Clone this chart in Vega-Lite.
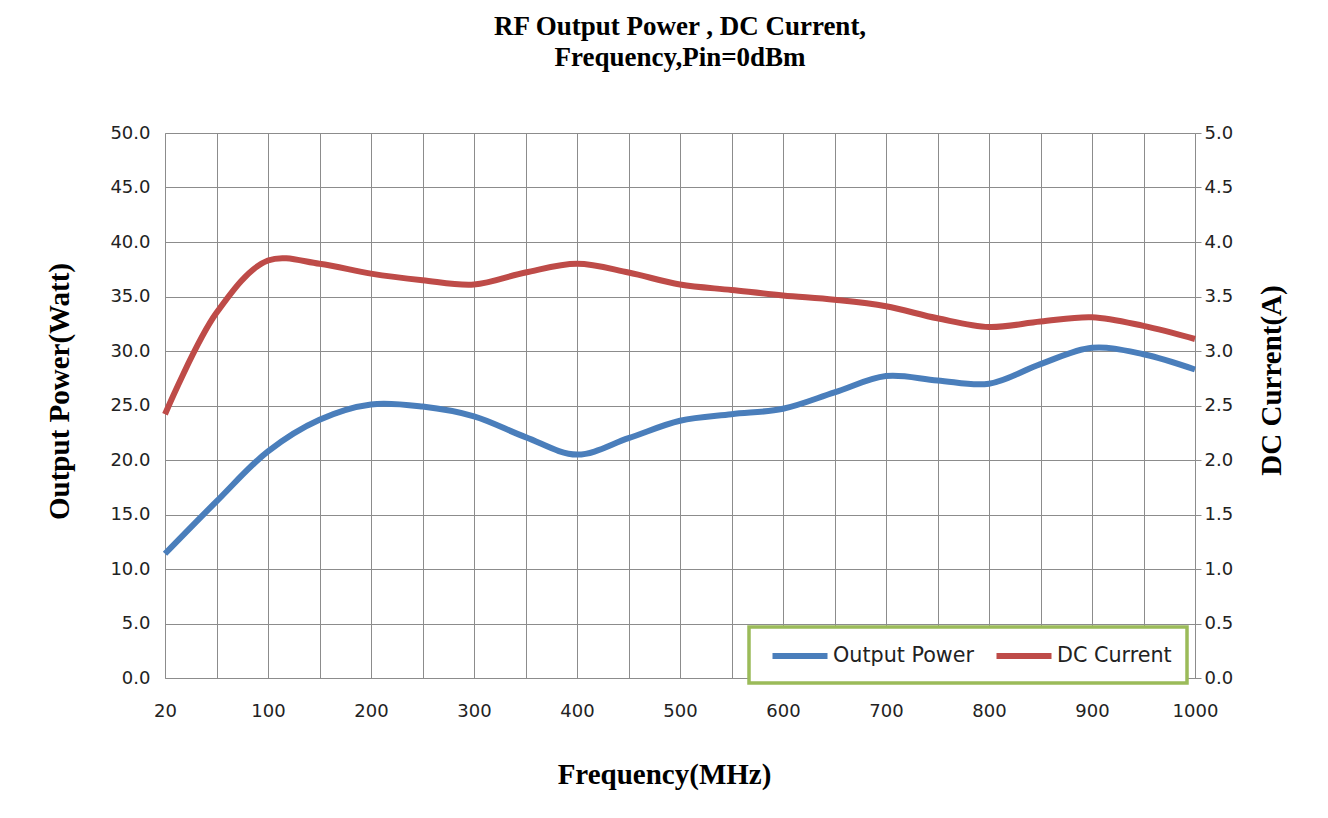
{
  "$schema": "https://vega.github.io/schema/vega-lite/v6.json",
  "width": 1030,
  "height": 545,
  "autosize": {"type": "none"},
  "padding": {"left": 165, "top": 133, "right": 133, "bottom": 140},
  "background": "white",
  "title": {
    "text": ["RF Output Power , DC Current,", "Frequency,Pin=0dBm"],
    "font": "Liberation Serif",
    "fontSize": 27,
    "fontWeight": "bold",
    "color": "#000000",
    "anchor": "middle",
    "offset": 52,
    "lineHeight": 31
  },
  "config": {
    "view": {"stroke": null},
    "axis": {
      "labelFont": "DejaVu Sans",
      "labelFontSize": 18,
      "labelColor": "#222222",
      "titleFont": "Liberation Serif",
      "titleFontSize": 29,
      "titleFontWeight": "bold",
      "titleColor": "#000000",
      "gridColor": "#8c8c8c",
      "gridWidth": 1,
      "domainColor": "#8c8c8c",
      "tickColor": "#8c8c8c"
    },
    "legend": {
      "labelFont": "DejaVu Sans",
      "labelFontSize": 20.7,
      "labelColor": "#222222",
      "strokeWidth": 3.5
    }
  },
  "data": {
    "values": [
      {"freq": "20", "power": 11.4, "current": 2.42},
      {"freq": "50", "power": 16.2, "current": 3.35},
      {"freq": "100", "power": 20.8, "current": 3.83},
      {"freq": "150", "power": 23.7, "current": 3.8},
      {"freq": "200", "power": 25.1, "current": 3.71},
      {"freq": "250", "power": 24.9, "current": 3.65},
      {"freq": "300", "power": 24.0, "current": 3.61},
      {"freq": "350", "power": 22.1, "current": 3.72},
      {"freq": "400", "power": 20.5, "current": 3.8},
      {"freq": "450", "power": 22.0, "current": 3.72},
      {"freq": "500", "power": 23.6, "current": 3.61},
      {"freq": "550", "power": 24.2, "current": 3.56},
      {"freq": "600", "power": 24.7, "current": 3.51},
      {"freq": "650", "power": 26.2, "current": 3.47},
      {"freq": "700", "power": 27.7, "current": 3.41},
      {"freq": "750", "power": 27.3, "current": 3.3},
      {"freq": "800", "power": 27.0, "current": 3.22},
      {"freq": "850", "power": 28.8, "current": 3.27},
      {"freq": "900", "power": 30.3, "current": 3.31},
      {"freq": "950", "power": 29.7, "current": 3.23},
      {"freq": "1000", "power": 28.3, "current": 3.11}
    ]
  },
  "encoding": {
    "x": {
      "field": "freq",
      "type": "ordinal",
      "sort": null,
      "scale": {"type": "point", "padding": 0},
      "axis": {
        "title": "Frequency(MHz)",
        "labelAngle": 0,
        "ticks": false,
        "labelPadding": 24,
        "titlePadding": 40,
        "titleX": 499,
        "grid": true,
        "labelExpr": "toNumber(datum.value) % 100 == 50 ? '' : datum.label"
      }
    }
  },
  "layer": [
    {
      "mark": {"type": "line", "interpolate": "catmull-rom", "strokeWidth": 6, "strokeCap": "butt"},
      "encoding": {
        "y": {
          "field": "power",
          "type": "quantitative",
          "scale": {"domain": [0, 50], "nice": false},
          "axis": {
            "title": "Output Power(Watt)",
            "orient": "left",
            "values": [0, 5, 10, 15, 20, 25, 30, 35, 40, 45, 50],
            "format": ".1f",
            "ticks": false,
            "labelPadding": 15,
            "titlePadding": 35,
            "titleY": 258,
            "domain": true
          }
        },
        "color": {
          "datum": "Output Power",
          "type": "nominal",
          "scale": {"domain": ["Output Power", "DC Current"], "range": ["#4a7ebb", "#be4b48"]},
          "legend": {
            "title": null,
            "orient": "none",
            "direction": "horizontal",
            "legendX": 584,
            "legendY": 494,
            "symbolType": "M-0.5,0H4.5",
            "symbolStrokeWidth": 6,
            "symbolSize": 484,
            "labelOffset": 41,
            "columnPadding": 10,
            "padding": 15,
            "strokeColor": "#9bbb59",
            "fillColor": "white"
          }
        }
      }
    },
    {
      "mark": {"type": "line", "interpolate": "catmull-rom", "strokeWidth": 6, "strokeCap": "butt"},
      "encoding": {
        "y": {
          "field": "current",
          "type": "quantitative",
          "scale": {"domain": [0, 5], "nice": false},
          "axis": {
            "title": "DC Current(A)",
            "orient": "right",
            "values": [0, 0.5, 1, 1.5, 2, 2.5, 3, 3.5, 4, 4.5, 5],
            "format": ".1f",
            "grid": false,
            "tickSize": 6,
            "labelPadding": 3,
            "titleAngle": 270,
            "titlePadding": 54,
            "titleY": 247
          }
        },
        "color": {"datum": "DC Current", "type": "nominal"}
      }
    }
  ],
  "resolve": {"scale": {"y": "independent"}}
}
